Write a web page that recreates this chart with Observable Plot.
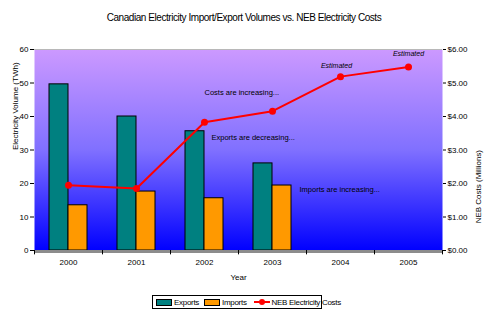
<!DOCTYPE html>
<html>
<head>
<meta charset="utf-8">
<script src="https://cdn.jsdelivr.net/npm/d3@7"></script>
<script src="https://cdn.jsdelivr.net/npm/@observablehq/plot@0.6"></script>
<style>
  html, body { margin: 0; padding: 0; background: #fff; }
  #wrap { position: relative; width: 488px; height: 315px; font-family: "Liberation Sans", Arial, sans-serif; }
  #title { position: absolute; top: 12px; left: 0; width: 488px; text-align: center; font-size: 10px; letter-spacing: -0.45px; color: #000; }
  #legend { position: absolute; left: 152px; top: 295px; width: 170px; height: 14px; border: 1px solid #000; box-sizing: border-box; font-size: 8px; letter-spacing: -0.3px; display: flex; align-items: center; padding-left: 3px; gap: 2px; white-space: nowrap; background: #fff; }
  .sw { display: inline-block; width: 14px; height: 5px; border: 1px solid #000; margin-right: 2px; vertical-align: middle; }
  .ln { display: inline-block; position: relative; width: 16px; height: 2px; background: #f00; margin: 0 2px 0 2px; vertical-align: middle; }
  .ln::after { content: ""; position: absolute; left: 5px; top: -2px; width: 6px; height: 6px; border-radius: 3px; background: #f00; }
  .it { display: inline-flex; align-items: center; margin-right: 3px; }
</style>
</head>
<body>
<div id="wrap">
  <div id="title">Canadian Electricity Import/Export Volumes vs. NEB Electricity Costs</div>
  <div id="chart"></div>
  <div id="legend">
    <span class="it"><span class="sw" style="background:#008080"></span>Exports</span>
    <span class="it"><span class="sw" style="background:#FF9900"></span>Imports</span>
    <span class="it"><span class="ln"></span>NEB Electricity Costs</span>
  </div>
</div>
<script>
const years = ["2000", "2001", "2002", "2003", "2004", "2005"];
const exportsTWh = [49.6, 40.0, 35.6, 26.0, null, null];
const importsTWh = [13.5, 17.6, 15.6, 19.4, null, null];
const costsMillions = [1.95, 1.85, 3.83, 4.16, 5.19, 5.48];
const leftTicks = [0, 10, 20, 30, 40, 50, 60];
const rightTicks = [0, 1, 2, 3, 4, 5, 6];
const noteCosts = {year: "2002", value: 4.72, text: "Costs are increasing..."};
const noteExports = {year: "2002", value: 3.37, text: "Exports are decreasing..."};
const noteImports = {year: "2003", value: 1.82, text: "Imports are increasing..."};
const estimatedYears = ["2004", "2005"];
const estimatedLabel = "Estimated";

const ratio = 10; // cost axis $6.00 aligns with 60 TWh
const bars = years.map((y, i) => ({year: y, exp: exportsTWh[i], imp: importsTWh[i]})).filter(d => d.exp != null);
const costs = years.map((y, i) => ({year: y, v: costsMillions[i] * ratio}));
const band = (488 - 34 - 46) / years.length;
const font = "Liberation Sans, Arial, sans-serif";
const est = costs.filter(d => estimatedYears.includes(d.year));

const chart = Plot.plot({
  width: 488,
  height: 315,
  marginLeft: 34,
  marginRight: 46,
  marginTop: 49,
  marginBottom: 65,
  style: {fontFamily: font, fontSize: "8px", background: "transparent", overflow: "visible"},
  x: {domain: years, padding: 0, axis: null},
  y: {domain: [0, 60], axis: null},
  marks: [
    Plot.frame({fill: "url(#bgGrad)", stroke: null}),
    Plot.ruleY([60], {stroke: "#b8b8b8", strokeWidth: 1}),
    Plot.barY(bars, {x: "year", y: "exp", fill: "#008080", stroke: "#000", strokeWidth: 1, insetLeft: 15, insetRight: 34}),
    Plot.barY(bars, {x: "year", y: "imp", fill: "#FF9900", stroke: "#000", strokeWidth: 1, insetLeft: 34, insetRight: 15}),
    Plot.ruleY([0], {stroke: "#8c8c8c", strokeWidth: 3, dy: 1}),
    // left axis
    Plot.ruleX([0], {frameAnchor: "left", stroke: "#000"}),
    Plot.axisY({ticks: leftTicks, anchor: "left", tickSize: 4, tickPadding: 2, label: null, tickFormat: d => String(d), fontSize: 8, letterSpacing: "-0.4"}),
    Plot.axisY({ticks: rightTicks.map(d => d * ratio), anchor: "right", tickSize: 3, tickPadding: 2, label: null, tickFormat: d => "$" + (d / ratio).toFixed(2), fontSize: 8, letterSpacing: "-0.4"}),
    // x boundaries ticks
    Plot.ruleX(years, {x: d => d, dx: -band / 2, y1: 0, y2: -1.3, stroke: "#000"}),
    Plot.ruleX([years[years.length - 1]], {x: d => d, dx: band / 2, y1: 0, y2: -1.3, stroke: "#000"}),
    Plot.text(years, {x: d => d, frameAnchor: "bottom", dy: 14, text: d => d, fontSize: 8, letterSpacing: "-0.4"}),
    Plot.text(["Year"], {frameAnchor: "bottom", dy: 29, text: d => d, fontSize: 8, letterSpacing: "-0.4"}),
    Plot.text(["Electricity Volume (TWh)"], {frameAnchor: "left", dx: -19, rotate: -90, text: d => d, fontSize: 8, letterSpacing: "-0.5"}),
    Plot.text(["NEB Costs (Millions)"], {frameAnchor: "right", dx: 36, rotate: -90, text: d => d, fontSize: 8, letterSpacing: "-0.5"}),
    // right axis line
    Plot.ruleX([0], {frameAnchor: "right", stroke: "#000"}),
    // cost line
    Plot.line(costs, {x: "year", y: "v", stroke: "#FF0000", strokeWidth: 2}),
    Plot.dot(costs, {x: "year", y: "v", fill: "#FF0000", r: 3.5}),
    // annotations
    Plot.text([noteCosts], {x: "year", y: d => d.value * ratio, dx: 0, text: "text", textAnchor: "start", fontSize: 7.5, letterSpacing: "-0.75"}),
    Plot.text([noteExports], {x: "year", y: d => d.value * ratio, dx: 7, text: "text", textAnchor: "start", fontSize: 7.5, letterSpacing: "-0.75"}),
    Plot.text([noteImports], {x: "year", y: d => d.value * ratio, dx: 27, text: "text", textAnchor: "start", fontSize: 7.5, letterSpacing: "-0.75"}),
    Plot.text(est.slice(0, 1), {x: "year", y: "v", dx: -4, dy: -11, text: () => estimatedLabel, fontSize: 7, fontStyle: "italic", letterSpacing: "-0.6"}),
    Plot.text(est.slice(1), {x: "year", y: "v", dx: 0, dy: -13, text: () => estimatedLabel, fontSize: 7, fontStyle: "italic", letterSpacing: "-0.6"})
  ]
});

const svg = chart.tagName.toLowerCase() === "svg" ? chart : chart.querySelector("svg");
const ns = "http://www.w3.org/2000/svg";
const defs = document.createElementNS(ns, "defs");
defs.innerHTML = '<linearGradient id="bgGrad" x1="0" y1="0" x2="0" y2="1"><stop offset="0" stop-color="#CC99FF"/><stop offset="0.5" stop-color="#8070FF"/><stop offset="1" stop-color="#0000FF"/></linearGradient>';
svg.insertBefore(defs, svg.firstChild);
document.getElementById("chart").appendChild(chart);
</script>
</body>
</html>
